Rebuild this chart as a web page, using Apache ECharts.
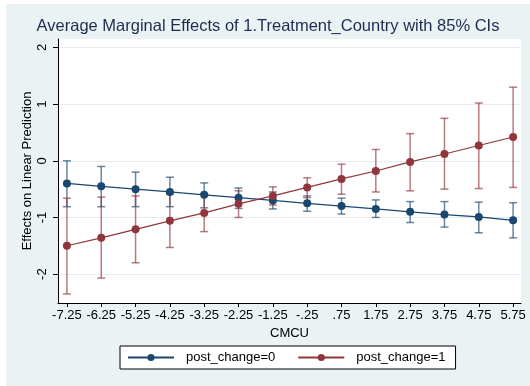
<!DOCTYPE html>
<html>
<head>
<meta charset="utf-8">
<script src="https://cdn.jsdelivr.net/npm/echarts@6/dist/echarts.min.js"></script>
<style>
  html, body { margin: 0; padding: 0; background: #fff; }
  #main { position: absolute; left: 6px; top: 4px; width: 524px; height: 382px; background: #eaf2f3; }
</style>
</head>
<body>
<div id="main"></div>
<script>
// CMCU values and their tick labels
const cmcu = [-7.25, -6.25, -5.25, -4.25, -3.25, -2.25, -1.25, -0.25, 0.75, 1.75, 2.75, 3.75, 4.75, 5.75]
const cmcuLabels = ['-7.25', '-6.25', '-5.25', '-4.25', '-3.25', '-2.25', '-1.25', '-.25', '.75', '1.75', '2.75', '3.75', '4.75', '5.75']
const yTicks = [-2, -1, 0, 1, 2]

// post_change=0
const effect0 = [-0.40, -0.45, -0.50, -0.55, -0.60, -0.65, -0.70, -0.75, -0.80, -0.85, -0.90, -0.95, -0.99, -1.05]
const lower0 = [-0.81, -0.81, -0.81, -0.81, -0.83, -0.84, -0.85, -0.89, -0.94, -1.00, -1.09, -1.17, -1.27, -1.36]
const upper0 = [0.00, -0.10, -0.20, -0.29, -0.39, -0.48, -0.55, -0.62, -0.66, -0.69, -0.72, -0.72, -0.73, -0.74]

// post_change=1
const effect1 = [-1.50, -1.36, -1.21, -1.06, -0.92, -0.76, -0.62, -0.47, -0.32, -0.18, -0.02, 0.12, 0.27, 0.42]
const lower1 = [-2.35, -2.07, -1.80, -1.53, -1.25, -1.00, -0.78, -0.65, -0.59, -0.55, -0.53, -0.50, -0.49, -0.47]
const upper1 = [-0.66, -0.64, -0.62, -0.59, -0.58, -0.53, -0.46, -0.30, -0.06, 0.20, 0.48, 0.75, 1.02, 1.30]

const blue = '#1a476f'
const red = '#90353b'
const font = 'Liberation Sans, Arial, Helvetica, sans-serif'

function ciSeries (lo, hi, color) {
  return {
    type: 'custom',
    silent: true,
    data: cmcu.map((x, i) => [x, lo[i], hi[i]]),
    renderItem: function (params, api) {
      let a = api.coord([api.value(0), api.value(1)])
      let b = api.coord([api.value(0), api.value(2)])
      let style = { stroke: color, lineWidth: 1.5, opacity: 0.65 }
      let cap = 4
      return {
        type: 'group',
        children: [
          { type: 'line', shape: { x1: a[0], y1: a[1], x2: b[0], y2: b[1] }, style: style },
          { type: 'line', shape: { x1: a[0] - cap, y1: a[1], x2: a[0] + cap, y2: a[1] }, style: style },
          { type: 'line', shape: { x1: b[0] - cap, y1: b[1], x2: b[0] + cap, y2: b[1] }, style: style }
        ]
      }
    }
  }
}

function lineSeries (name, vals, color) {
  return {
    name: name,
    type: 'line',
    data: cmcu.map((x, i) => [x, vals[i]]),
    symbol: 'circle',
    symbolSize: 8,
    lineStyle: { color: color, width: 1.2 },
    itemStyle: { color: color },
    z: 5
  }
}

let chart = echarts.init(document.getElementById('main'))
let option = {
  animation: false,
  textStyle: { fontFamily: font },
  title: {
    text: 'Average Marginal Effects of 1.Treatment_Country with 85% CIs',
    left: 'center',
    top: 9,
    textStyle: { fontFamily: font, fontSize: 16.5, fontWeight: 'normal', color: '#1e2c50' }
  },
  legend: {
    data: ['post_change=0', 'post_change=1'],
    left: 114,
    top: 342,
    padding: [5, 10, 5, 7],
    itemGap: 22,
    itemWidth: 46,
    itemHeight: 9,
    backgroundColor: '#fff',
    borderColor: '#000',
    borderWidth: 1,
    borderRadius: 0,
    textStyle: { fontFamily: font, fontSize: 13, color: '#000', padding: [0, 0, 0, 7] }
  },
  grid: {
    left: 52,
    top: 35,
    width: 463,
    height: 264,
    show: true,
    backgroundColor: '#fff',
    borderWidth: 0
  },
  xAxis: {
    type: 'value',
    min: -7.51,
    max: 5.98,
    name: 'CMCU',
    nameLocation: 'middle',
    nameGap: 22,
    nameTextStyle: { fontFamily: font, fontSize: 13, color: '#000' },
    axisLine: { show: true, onZero: false, lineStyle: { color: '#000', width: 1 } },
    axisTick: { show: true, length: 4, customValues: cmcu, lineStyle: { color: '#000' } },
    axisLabel: {
      customValues: cmcu,
      margin: 6,
      fontFamily: font,
      fontSize: 13,
      color: '#000',
      formatter: function (v) {
        let i = cmcu.findIndex(c => Math.abs(c - v) < 1e-6)
        return i >= 0 ? cmcuLabels[i] : ''
      }
    },
    splitLine: { show: false }
  },
  yAxis: {
    type: 'value',
    min: -2.51,
    max: 2.15,
    name: 'Effects on Linear Prediction',
    nameLocation: 'middle',
    nameGap: 24,
    nameMoveOverlap: false,
    nameTextStyle: { fontFamily: font, fontSize: 13, color: '#000' },
    axisLine: { show: true, onZero: false, lineStyle: { color: '#000', width: 1 } },
    axisTick: { show: true, length: 5, customValues: yTicks, lineStyle: { color: '#000' } },
    axisLabel: { customValues: yTicks, rotate: 90, margin: 9, fontFamily: font, fontSize: 13, color: '#000' },
    splitLine: { show: true, lineStyle: { color: '#e4eef0', width: 1 } }
  },
  series: [
    ciSeries(lower0, upper0, blue),
    ciSeries(lower1, upper1, red),
    lineSeries('post_change=0', effect0, blue),
    lineSeries('post_change=1', effect1, red)
  ]
}
chart.setOption(option)
window.addEventListener('resize', function () {
  chart.resize()
})
</script>
</body>
</html>
